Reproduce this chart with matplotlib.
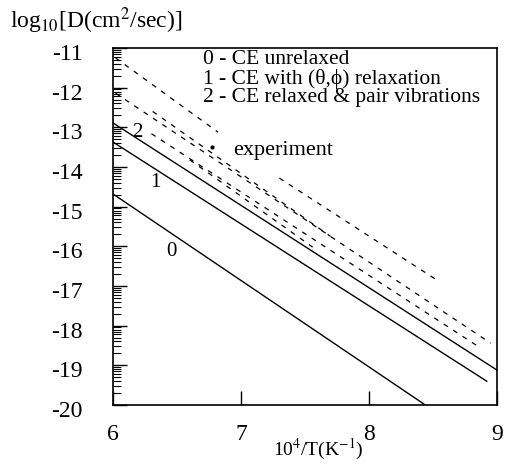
import matplotlib
matplotlib.use("Agg")
import matplotlib.pyplot as plt
import matplotlib.transforms as mtransforms
import numpy as np

plt.rcParams['font.family'] = ['Liberation Serif', 'DejaVu Serif']
plt.rcParams['mathtext.fontset'] = 'stix'

# Theory lines (solid): [x_start, x_end], [y_start, y_end]
theory_x = {
    "0": [6.0, 8.44],
    "1": [6.0, 8.92],
    "2": [6.0, 9.0],
}
theory_y = {
    "0": [-14.68, -20.0],
    "1": [-13.37, -19.40],
    "2": [-12.89, -19.12],
}
theory_label_pos = {"0": (6.46, -16.14), "1": (6.33, -14.40), "2": (6.19, -13.12)}

# Experimental lines (dashed)
exp_x = [
    [6.02, 6.82],
    [6.02, 8.95],
    [6.30, 8.87],
    [6.31, 7.70],
    [6.60, 7.56],
    [7.30, 8.53],
]
exp_y = [
    [-11.25, -13.12],
    [-12.14, -18.44],
    [-13.16, -18.56],
    [-12.60, -15.75],
    [-13.82, -16.02],
    [-14.28, -16.85],
]

legend_lines = [
    "0 - CE unrelaxed",
    "1 - CE with (θ,ϕ) relaxation",
    "2 - CE relaxed & pair vibrations",
]

xticks = [6, 7, 8, 9]
yticks = list(range(-20, -10))

fig = plt.figure(figsize=(5.10, 4.66), dpi=100)
ax = fig.add_axes([113/510, 1-405/466, (497-113)/510, (405-48)/466])

for k in theory_x:
    ax.plot(theory_x[k], theory_y[k], color='black', lw=1.0)
    ax.text(*theory_label_pos[k], k, fontsize=15, ha='center', va='center')

for xs, ys in zip(exp_x, exp_y):
    ax.plot(xs, ys, color='black', lw=0.9, ls=(0, (4, 5)))

ax.set_xlim(6, 9)
ax.set_ylim(-20, -11)
ax.set_xticks(xticks)
ax.set_xticklabels([str(t) for t in xticks])
ax.set_yticks(yticks)
ax.set_yticklabels([str(t) for t in yticks])

# log-like minor ticks within each decade
minors = []
for d in range(-20, -11):
    for m in range(2, 10):
        minors.append(d + np.log10(m))
ax.set_yticks(minors, minor=True)

ax.tick_params(axis='both', which='major', direction='in', length=10, width=1,
               labelsize=17)
ax.tick_params(axis='y', which='minor', direction='in', length=6, width=0.8)
ax.tick_params(axis='y', which='major', pad=22)
ax.tick_params(axis='x', which='major', pad=14)
off = mtransforms.ScaledTranslation(0, -0.04, fig.dpi_scale_trans)
for lab in ax.get_yticklabels():
    lab.set_transform(lab.get_transform() + off)

for sp in ax.spines.values():
    sp.set_linewidth(1.2)

for i, t in enumerate(legend_lines):
    ax.text(6.70, -11.28 - i*0.49, t, fontsize=15.5, ha='left', va='center')

ax.text(6.94, -13.58, "experiment", fontsize=16, ha='left', va='center')
ax.plot([6.77], [-13.5], marker='o', ms=2, color='black')

fig.text(10/510, 1-21/466, r"log$_{10}$[D(cm$^2$/sec)]", fontsize=17, ha='left', va='center')
fig.text(318/510, 1-449/466, r"10$^4$/T(K$^{-1}$)", fontsize=14, ha='center', va='center')

fig.savefig("out.png", dpi=100)
